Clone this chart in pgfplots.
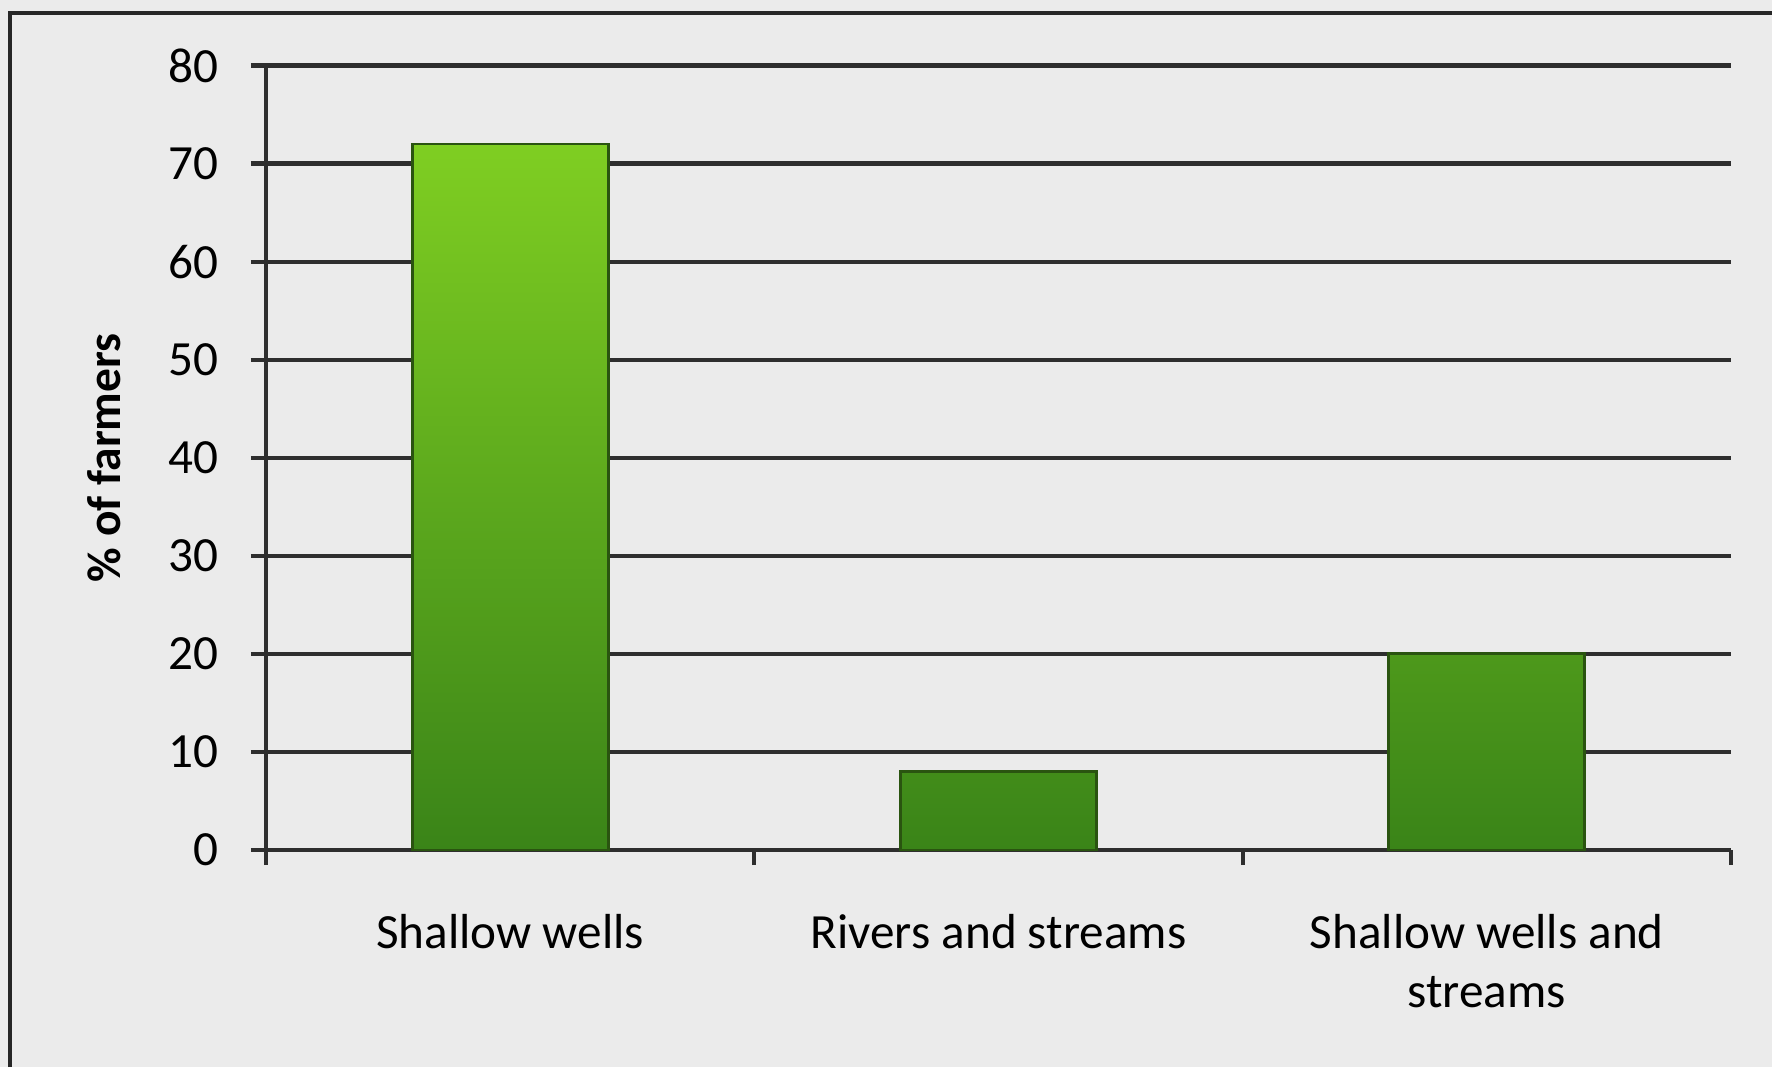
\documentclass[border=0pt]{standalone}
\usepackage{fontspec}
\setmainfont{Carlito}
\usepackage{pgfplots}
\pgfplotsset{compat=1.18}

\definecolor{pagegray}{HTML}{EBEBEB}
\definecolor{gridgray}{HTML}{2E2E2E}
\definecolor{bartop}{HTML}{7FCE22}
\definecolor{barbot}{HTML}{3A8418}
\definecolor{baredge}{HTML}{2A5410}

\begin{document}
\begin{tikzpicture}
  % page area and the chart frame
  \useasboundingbox (0,0) rectangle (177.2mm,106.7mm);
  \fill[pagegray] (0,0) rectangle (177.2mm,106.7mm);
  \draw[line width=1.2pt,color=black!85] (1.0mm,0) -- (1.0mm,105.4mm) -- (177.2mm,105.4mm);

  \begin{axis}[
    at={(26.6mm,21.7mm)}, anchor=south west,
    scale only axis,
    width=146.5mm, height=78.45mm,
    xmin=-0.5, xmax=2.5,
    ymin=0, ymax=80,
    ytick={0,10,...,80},
    xtick={0,1,2},
    xticklabels={Shallow wells, Rivers and streams, {Shallow wells and\\streams}},
    minor xtick={-0.5,0.5,1.5,2.5},
    major x tick style={draw=none},
    tick align=outside,
    major tick length=1.5mm,
    minor tick length=1.5mm,
    axis x line*=bottom,
    axis y line*=left,
    axis line style={gridgray, line width=1.2pt},
    every tick/.style={gridgray, line width=1.2pt},
    ymajorgrids,
    grid style={gridgray, line width=1.2pt},
    /pgf/number format/assume math mode=true,
    tick label style={font=\fontsize{14}{16.8}\selectfont, text=black},
    xticklabel style={align=center},
    xticklabel shift=10.5pt,
    yticklabel shift=5.7pt,
    ylabel={\textbf{\% of farmers}},
    every axis y label/.style={at={(axis description cs:-0.1106,0.5)}, rotate=90, anchor=center,
      font=\fontsize{13.5}{16.8}\selectfont},
    axis background/.style={fill=none},
  ]
    \addplot[ybar, bar width=19.6mm, draw=baredge, line width=0.8pt,
             top color=bartop, bottom color=barbot]
      coordinates {(0,72) (1,8) (2,20)};
  \end{axis}
\end{tikzpicture}
\end{document}
